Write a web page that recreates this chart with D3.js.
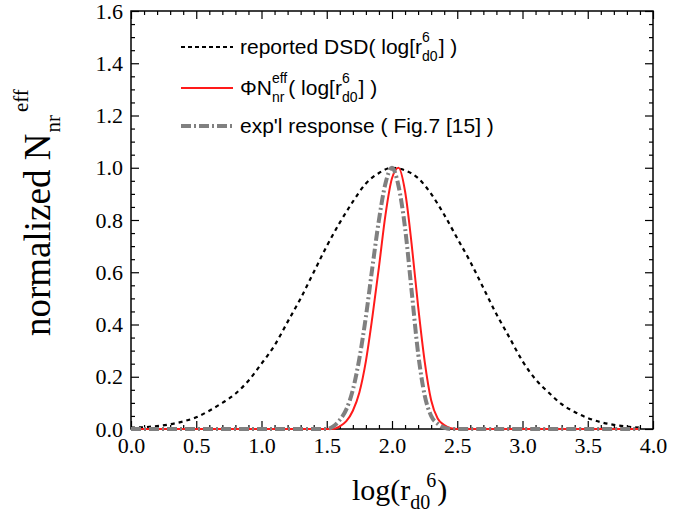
<!DOCTYPE html>
<html>
<head>
<meta charset="utf-8">
<script src="https://cdn.jsdelivr.net/npm/d3@7"></script>
<style>
  body { margin: 0; background: #fff; }
  svg { display: block; }
  .tick text { font-family: "Liberation Serif", "Times New Roman", serif; font-size: 22px; fill: #000; }
</style>
</head>
<body>
<svg id="chart" width="697" height="517"></svg>
<script>
// reported DSD (black dotted)
var dsdX = [0.0, 0.1, 0.2, 0.3, 0.4, 0.5, 0.6, 0.7, 0.8, 0.9, 1.0, 1.1, 1.2, 1.3, 1.4, 1.5, 1.6, 1.7, 1.8, 1.9,
            2.0, 2.1, 2.2, 2.3, 2.4, 2.5, 2.6, 2.7, 2.8, 2.9, 3.0, 3.1, 3.2, 3.3, 3.4, 3.5, 3.6, 3.7, 3.8, 3.9];
var dsdY = [0.005, 0.007, 0.011, 0.018, 0.029, 0.045, 0.07, 0.10, 0.135, 0.185, 0.25, 0.32, 0.41, 0.50, 0.60, 0.70, 0.79, 0.87, 0.94, 0.98,
            1.0, 0.99, 0.96, 0.90, 0.82, 0.73, 0.64, 0.54, 0.44, 0.35, 0.26, 0.19, 0.14, 0.095, 0.065, 0.042, 0.026, 0.016, 0.009, 0.005];

// PhiN_nr^eff (red solid)
var phiX = [0.0, 1.50, 1.55, 1.60, 1.65, 1.70, 1.75, 1.80, 1.85, 1.90, 1.95, 2.00, 2.05, 2.10, 2.15, 2.20, 2.25, 2.30, 2.35, 2.40, 2.45, 2.50, 3.9];
var phiY = [0.0, 0.0, 0.0, 0.01, 0.03, 0.07, 0.14, 0.26, 0.43, 0.62, 0.82, 0.96, 1.0, 0.91, 0.71, 0.47, 0.26, 0.11, 0.04, 0.015, 0.003, 0.0, 0.0];

// exp'l response, Fig.7 [15] (gray dash-dot)
var expX = [0.0, 1.45, 1.50, 1.55, 1.60, 1.65, 1.70, 1.75, 1.80, 1.85, 1.90, 1.95, 2.00, 2.05, 2.10, 2.15, 2.20, 2.25, 2.30, 2.35, 2.40, 2.45, 3.9];
var expY = [0.0, 0.0, 0.0, 0.01, 0.035, 0.075, 0.15, 0.27, 0.43, 0.62, 0.80, 0.94, 1.0, 0.93, 0.77, 0.53, 0.29, 0.13, 0.05, 0.02, 0.005, 0.0, 0.0];

var xMajor = [0.0, 0.5, 1.0, 1.5, 2.0, 2.5, 3.0, 3.5, 4.0];
var yMajor = [0.0, 0.2, 0.4, 0.6, 0.8, 1.0, 1.2, 1.4, 1.6];

var svg = d3.select("#chart");
var plot = { left: 131, right: 653, top: 11, bottom: 429 };

var x = d3.scaleLinear().domain([0, 4]).range([plot.left, plot.right]);
var y = d3.scaleLinear().domain([0, 1.6]).range([plot.bottom, plot.top]);

var xMinor = d3.range(0, 41).map(d => d / 10).filter(d => xMajor.indexOf(d) < 0);
var yMinor = d3.range(0, 33).map(d => d / 20).filter(d => Math.abs(d * 5 - Math.round(d * 5)) > 1e-6);

function drawAxis(axisFn, scale, transform, vals, size, labels) {
    var a = axisFn(scale).tickValues(vals).tickSize(-size).tickPadding(8);
    a.tickFormat(labels ? d3.format(".1f") : "");
    var g = svg.append("g").attr("transform", transform).call(a);
    g.select(".domain").remove();
    g.selectAll(".tick line").attr("stroke", "#000").attr("stroke-width", 1.2);
    return g;
}

// minor ticks
drawAxis(d3.axisBottom, x, "translate(0," + plot.bottom + ")", xMinor, 4, false);
drawAxis(d3.axisTop, x, "translate(0," + plot.top + ")", xMinor, 4, false);
drawAxis(d3.axisLeft, y, "translate(" + plot.left + ",0)", yMinor, 4, false);
drawAxis(d3.axisRight, y, "translate(" + plot.right + ",0)", yMinor, 4, false);
// major ticks
drawAxis(d3.axisBottom, x, "translate(0," + plot.bottom + ")", xMajor, 8, true);
drawAxis(d3.axisTop, x, "translate(0," + plot.top + ")", xMajor, 8, false);
drawAxis(d3.axisLeft, y, "translate(" + plot.left + ",0)", yMajor, 8, true);
drawAxis(d3.axisRight, y, "translate(" + plot.right + ",0)", yMajor, 8, false);

// frame
svg.append("rect")
    .attr("x", plot.left).attr("y", plot.top)
    .attr("width", plot.right - plot.left).attr("height", plot.bottom - plot.top)
    .attr("fill", "none").attr("stroke", "#000").attr("stroke-width", 1.5);

var line = d3.line()
    .x(d => x(d[0]))
    .y(d => y(d[1]))
    .curve(d3.curveMonotoneX);

svg.append("path")
    .datum(d3.zip(dsdX, dsdY))
    .attr("d", line)
    .attr("fill", "none").attr("stroke", "#000")
    .attr("stroke-width", 2.2).attr("stroke-dasharray", "4,4");

svg.append("path")
    .datum(d3.zip(phiX, phiY))
    .attr("d", line)
    .attr("fill", "none").attr("stroke", "#ff1a1a")
    .attr("stroke-width", 2);

svg.append("path")
    .datum(d3.zip(expX, expY))
    .attr("d", line)
    .attr("fill", "none").attr("stroke", "#808080")
    .attr("stroke-width", 4).attr("stroke-dasharray", "10,3,2,3");

// text with stacked super/subscripts
function richText(g, x0, y0, parts, size, small, family, upOff, downOff) {
    var cx = x0;
    parts.forEach(p => {
        if (p.t !== undefined) {
            var t = g.append("text").attr("x", cx).attr("y", y0)
                .attr("font-family", family).attr("font-size", size).text(p.t);
            cx += t.node().getComputedTextLength();
        } else {
            var w = 0;
            if (p.sup) {
                var s = g.append("text").attr("x", cx + (p.supDx || 0)).attr("y", y0 - upOff)
                    .attr("font-family", family).attr("font-size", small).text(p.sup);
                w = Math.max(w, s.node().getComputedTextLength() + (p.supDx || 0));
            }
            if (p.sub) {
                var b = g.append("text").attr("x", cx).attr("y", y0 + downOff)
                    .attr("font-family", family).attr("font-size", small).text(p.sub);
                w = Math.max(w, b.node().getComputedTextLength());
            }
            cx += w + 1;
        }
    });
    return cx;
}

// legend
var legend = svg.append("g");
var legRows = [
    { y: 47, stroke: "#000", width: 2.2, dash: "4,3",
      parts: [{ t: "reported DSD( log[r" }, { sup: "6", sub: "d0" }, { t: "] )" }] },
    { y: 88, stroke: "#ff1a1a", width: 2, dash: null,
      parts: [{ t: "\u03A6N" }, { sup: "eff", sub: "nr" }, { t: "( log[r" }, { sup: "6", sub: "d0" }, { t: "] )" }] },
    { y: 126, stroke: "#808080", width: 4, dash: "10,3,2,3",
      parts: [{ t: "exp'l response ( Fig.7 [15] )" }] }
];
legRows.forEach(r => {
    legend.append("line")
        .attr("x1", 181).attr("x2", 233)
        .attr("y1", r.y).attr("y2", r.y)
        .attr("stroke", r.stroke).attr("stroke-width", r.width)
        .attr("stroke-dasharray", r.dash);
    richText(legend, 240, r.y + 7, r.parts, 21, 14, "Liberation Sans, Arial, sans-serif", 12, 7);
});

// x axis title
var xt = svg.append("g");
richText(xt, 352, 500, [{ t: "log(r" }, { sub: "d0", sup: "6", supDx: 16 }, { t: " )" }],
    30, 20, "Liberation Serif, Times New Roman, serif", 13, 9);

// y axis title (rotated)
var yt = svg.append("g").attr("transform", "translate(50,336) rotate(-90)");
var base = yt.append("text").attr("x", 0).attr("y", 0)
    .attr("font-family", "Liberation Serif, Times New Roman, serif").attr("font-size", 37)
    .text("normalized N");
var bw = base.node().getComputedTextLength();
var nr = yt.append("text").attr("x", bw + 1).attr("y", 10)
    .attr("font-family", "Liberation Serif, Times New Roman, serif").attr("font-size", 21)
    .text("nr");
var nw = nr.node().getComputedTextLength();
yt.append("text").attr("x", bw + nw + 4).attr("y", -22)
    .attr("font-family", "Liberation Serif, Times New Roman, serif").attr("font-size", 21)
    .text("eff");
</script>
</body>
</html>
